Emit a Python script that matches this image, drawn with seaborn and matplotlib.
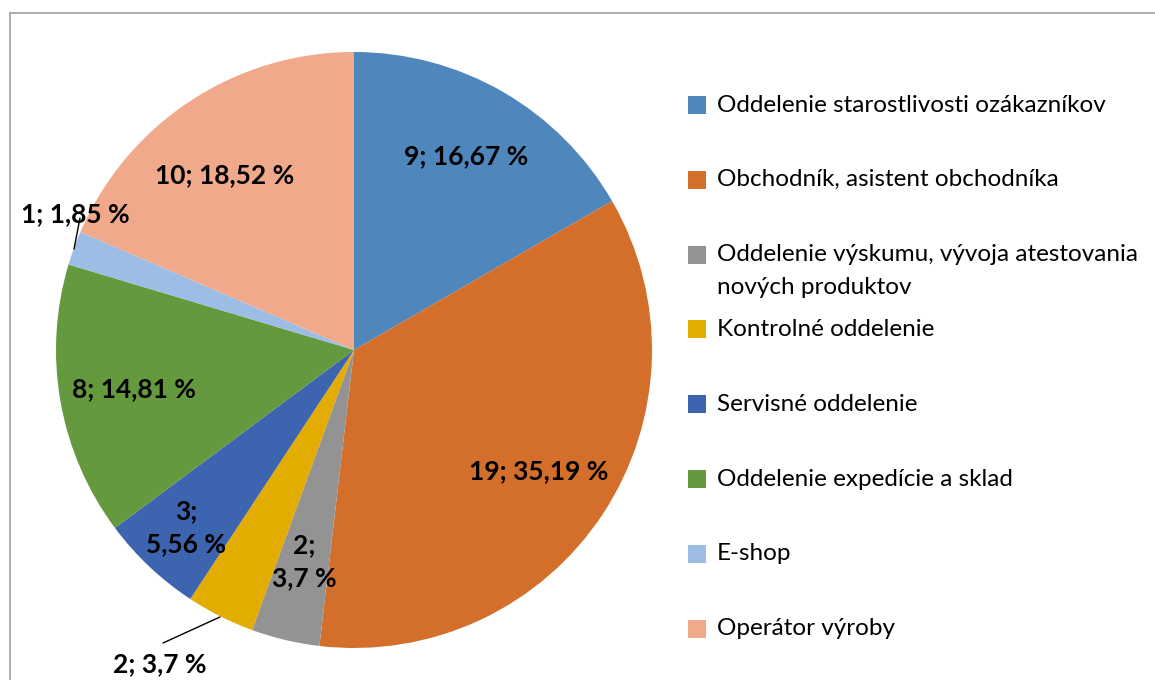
import numpy as np
import matplotlib.pyplot as plt
import seaborn as sns
from matplotlib.patches import Rectangle

# Data
categories = [
    "Oddelenie starostlivosti ozákazníkov",
    "Obchodník, asistent obchodníka",
    "Oddelenie výskumu, vývoja atestovania\nnových produktov",
    "Kontrolné oddelenie",
    "Servisné oddelenie",
    "Oddelenie expedície a sklad",
    "E-shop",
    "Operátor výroby",
]
counts = [9, 19, 2, 2, 3, 8, 1, 10]
pct_labels = ["16,67 %", "35,19 %", "3,7 %", "3,7 %", "5,56 %", "14,81 %", "1,85 %", "18,52 %"]
colors = ["#4F87BD", "#D36E2B", "#939393", "#E3AC00", "#3D64AE", "#64993D", "#9DBDE4", "#F0A98A"]

sns.set_theme(style="white")
plt.rcParams['font.family'] = ['Lato', 'DejaVu Sans']

W, H = 1155, 680
fig = plt.figure(figsize=(W / 100, H / 100), dpi=100)

# pie centered at (354, 350) px with radius 298 px
cx, cy, r = 354, 350, 298
ax = fig.add_axes([(cx - r) / W, (H - cy - r) / H, 2 * r / W, 2 * r / H])
wedges, _ = ax.pie(counts, colors=colors, startangle=90, counterclock=False,
                   radius=1, wedgeprops=dict(linewidth=0))
ax.set_xlim(-1, 1)
ax.set_ylim(-1, 1)
ax.set_aspect('auto')
ax.axis('off')

# label layout per slice
label_r = [0.75, 0.74, 0.73, 1.24, 0.82, 0.75, 1.04, 0.73]
label_ang_off = [0, 0, 0, -5, 0, 0, -6, 3]
split = [False, False, True, False, True, False, False, False]

total = sum(counts)
start = 90.0
for i, c in enumerate(counts):
    span = 360.0 * c / total
    mid = np.deg2rad(start - span / 2 + label_ang_off[i])
    start -= span
    txt = f"{c};\n{pct_labels[i]}" if split[i] else f"{c}; {pct_labels[i]}"
    x, y = label_r[i] * np.cos(mid), label_r[i] * np.sin(mid)
    ax.text(x, y, txt, ha='center', va='center', fontsize=19, fontweight='bold',
            color='black', linespacing=1.45, clip_on=False)

# leader lines (px -> data)
def px(xp, yp):
    return (xp - cx) / r, (cy - yp) / r

for (x1, y1), (x2, y2) in [((220, 617), (163, 643)), ((74, 249), (80, 218))]:
    a, b = px(x1, y1)
    c2, d = px(x2, y2)
    ax.plot([a, c2], [b, d], color='black', lw=1, clip_on=False)

# legend, evenly spaced like the original
leg_y0, leg_step = 105, 74.8
for i, (lab, col) in enumerate(zip(categories, colors)):
    yp = leg_y0 + i * leg_step
    fig.patches.append(Rectangle((688 / W, (H - yp - 9) / H), 18 / W, 18 / H,
                                 transform=fig.transFigure, facecolor=col, edgecolor='none'))
    for j, line in enumerate(lab.split('\n')):
        fig.text(717 / W, (H - yp - 33 * j) / H, line, ha='left', va='center',
                 fontsize=17.5, color='black')

# chart border
fig.patches.append(Rectangle((10 / W, -0.05), 1.2, (H - 13) / H + 0.05,
                             transform=fig.transFigure, facecolor='none',
                             edgecolor='#A0A0A0', linewidth=1.2))

plt.savefig('out.png', dpi=100)
